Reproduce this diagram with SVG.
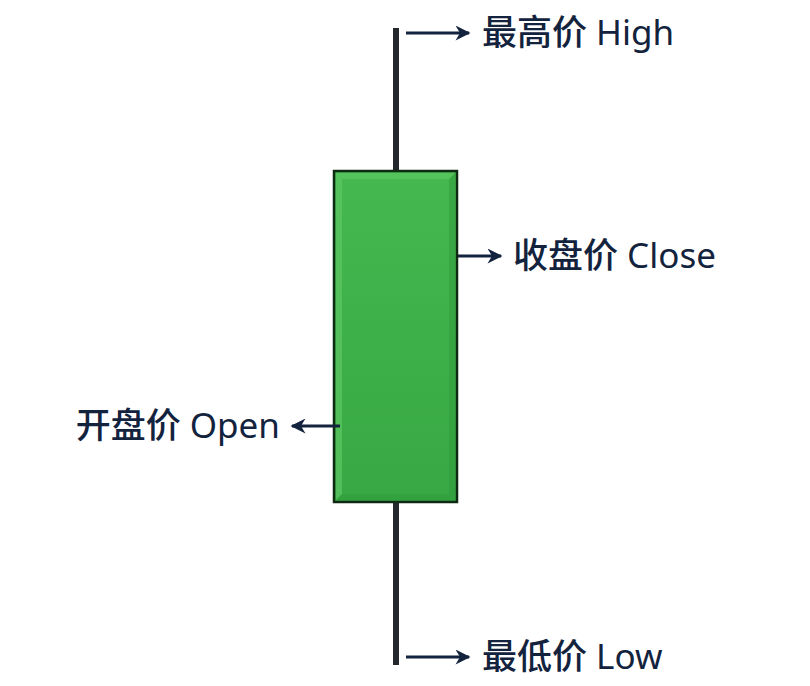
<svg xmlns="http://www.w3.org/2000/svg" width="810" height="686" viewBox="0 0 810 686">
<defs>
<marker id="ah" viewBox="0 0 10 10" refX="9" refY="5" markerWidth="18" markerHeight="15" markerUnits="userSpaceOnUse" orient="auto">
<path d="M0,0 L10,5 L0,10 L3,5 Z" fill="#13233d"/>
</marker>
<linearGradient id="g" x1="0" y1="0" x2="0" y2="1">
<stop offset="0" stop-color="#45b84f"/>
<stop offset="1" stop-color="#37a843"/>
</linearGradient>
</defs>
<style>
.lbl{font-family:"Noto Sans","Noto Sans CJK SC",sans-serif;font-size:35px;fill:#13233d}
.cjk{font-family:"Noto Sans CJK SC",sans-serif;font-weight:500}
.arr{stroke:#13233d;stroke-width:3;fill:none}
</style>
<rect width="810" height="686" fill="#ffffff"/>
<g id="wick">
<line x1="396" y1="28" x2="396" y2="170" stroke="#24282c" stroke-width="6"/>
<line x1="396" y1="502" x2="396" y2="665" stroke="#24282c" stroke-width="6"/>
</g>
<g id="body">
<rect x="334" y="171" width="123" height="331" fill="url(#g)" stroke="#0e2a12" stroke-width="2.5"/>
<path d="M336,173 L455,173 L449,179 L342,179 L342,494 L336,500 Z" fill="#5cc862" opacity="0.7"/>
<path d="M455,173 L455,500 L336,500 L342,494 L449,494 L449,179 Z" fill="#2e9a3a" opacity="0.5"/>
</g>
<g id="connectors">
<line class="arr" x1="406" y1="33" x2="469" y2="33" marker-end="url(#ah)"/>
<line class="arr" x1="458" y1="256" x2="501" y2="256" marker-end="url(#ah)"/>
<line class="arr" x1="340" y1="426" x2="292" y2="426" marker-end="url(#ah)"/>
<line class="arr" x1="406" y1="657" x2="469" y2="657" marker-end="url(#ah)"/>
</g>
<g id="high"><text class="lbl" x="482" y="45"><tspan class="cjk">最高价</tspan> High</text></g>
<g id="close"><text class="lbl" x="513" y="268"><tspan class="cjk">收盘价</tspan> Close</text></g>
<g id="open"><text class="lbl" x="280" y="438" text-anchor="end"><tspan class="cjk">开盘价</tspan> Open</text></g>
<g id="low"><text class="lbl" x="482" y="669"><tspan class="cjk">最低价</tspan> Low</text></g>
</svg>
